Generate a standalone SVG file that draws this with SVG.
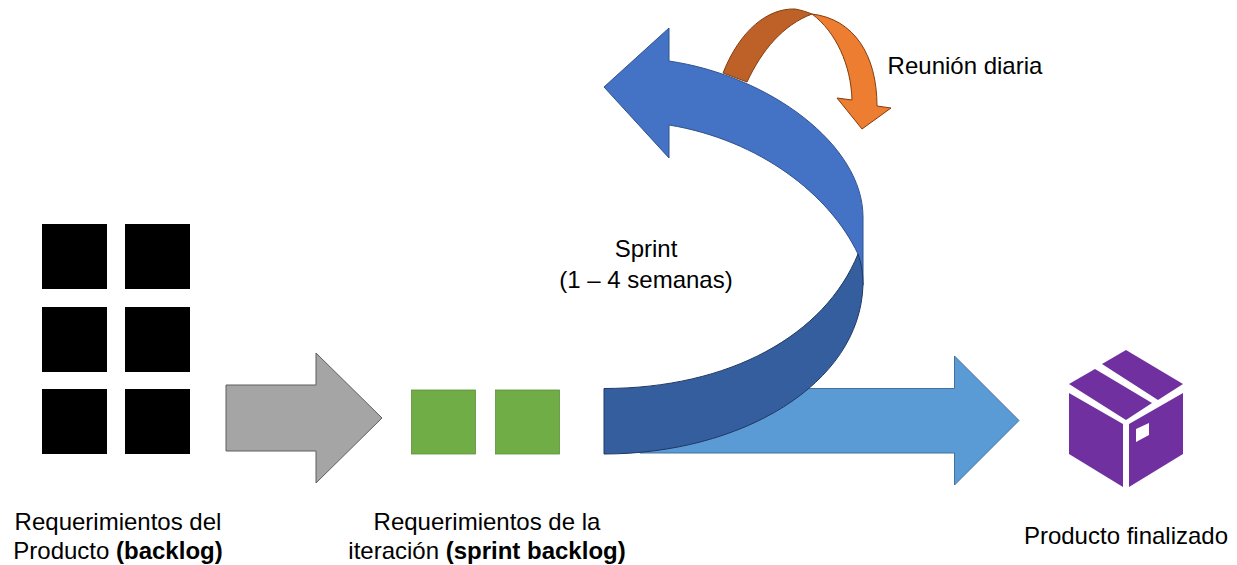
<svg xmlns="http://www.w3.org/2000/svg" width="1237" height="565" viewBox="0 0 1237 565">
<style>
text{font-family:"Liberation Sans",Arial,sans-serif;font-size:24px;fill:#000;text-anchor:middle}
.b{font-weight:bold}
.k{fill:#000}
.g{fill:#70ad47;stroke:#5b8f3a;stroke-width:.8}
.e{stroke-width:1;stroke-linejoin:miter}
</style>
<rect width="1237" height="565" fill="#fff"/>
<g id="backlog-squares">
<rect class="k" x="42" y="224" width="65" height="65"/><rect class="k" x="125" y="224" width="65" height="65"/>
<rect class="k" x="42" y="307" width="65" height="65"/><rect class="k" x="125" y="307" width="65" height="65"/>
<rect class="k" x="42" y="389" width="65" height="65"/><rect class="k" x="125" y="389" width="65" height="65"/>
</g>
<g id="backlog-label"><text x="118" y="530">Requerimientos del</text><text x="118" y="559">Producto <tspan class="b">(backlog)</tspan></text></g>
<g id="sprint-backlog-squares">
<rect class="g" x="411.500" y="390" width="64" height="64"/><rect class="g" x="495.500" y="390" width="64" height="64"/>
</g>
<g id="sprint-backlog-label"><text x="487" y="530">Requerimientos de la</text><text x="487" y="559">iteración <tspan class="b">(sprint backlog)</tspan></text></g>
<g id="connectors">
<path id="gray-arrow" class="e" fill="#a5a5a5" stroke="#5f5f5f" d="M226 385H316V353L382 418L316 483V451H226Z"/>
<path id="output-arrow" class="e" fill="#5b9bd5" stroke="#41719c" d="M640 388.500H954.500V356L1019 420.500L954.500 485V453H640Z"/>
<g id="daily-arrow">
<path class="e" fill="#ed7d31" stroke="#843c0c" d="M812 14C854 19 877 55 877 106L891 108L862 129L837 98L852 100C851 65 836 32 812 14Z"/>
<path class="e" fill="#bd6128" stroke="#843c0c" d="M723 73C740 30 768 8 795 9C801 10 807 12 812 14C783 25 762 50 747 82Z"/>
</g>
<g id="sprint-arrow">
<path class="e" fill="#4472c4" stroke="#2f528f" d="M604 87L669 28V61C770 76 863 145 863 217V285L858 254C830 195 760 140 669 125V158Z"/>
<path class="e" fill="#355e9e" stroke="#203864" d="M604 388.500C730 388.500 825 335 858 254C861 262 863 272 863 285C860 385 740 454 604 454Z"/>
</g>
</g>
<g id="sprint-label"><text x="646" y="257">Sprint</text><text x="646" y="288">(1 – 4 semanas)</text></g>
<g id="daily-label"><text x="965" y="74">Reunión diaria</text></g>
<g id="product" fill="#7030a0">
<path d="M1126 350L1183 384L1158 400L1102 364Z"/>
<path d="M1095 369L1152 403L1126 420L1069 384Z"/>
<path d="M1069 393L1123 424V487L1069 454Z"/>
<path fill-rule="evenodd" d="M1129 424L1183 393V454L1129 487ZM1136 429V442L1149 435V423Z"/>
</g>
<g id="product-label"><text x="1126" y="544">Producto finalizado</text></g>
</svg>
